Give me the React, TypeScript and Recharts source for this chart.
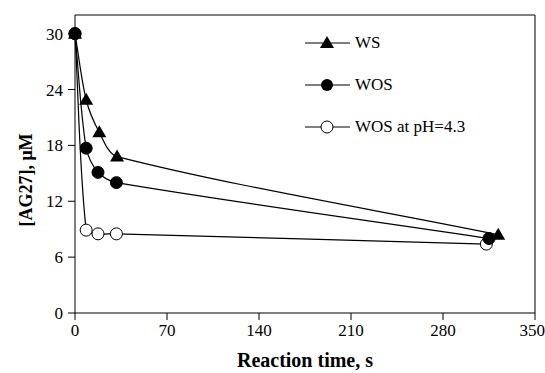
import React from 'react';
import {
  LineChart,
  Line,
  XAxis,
  YAxis,
  Legend,
} from 'recharts';

// reaction time (s) and [AG27] (uM) per series
const wsTime = [0, 8.5, 18.5, 32, 322];
const wsConc = [30, 22.9, 19.4, 16.8, 8.4];
const wosTime = [0, 8.5, 17.5, 31.5, 315];
const wosConc = [30, 17.7, 15.1, 14.0, 8.0];
const phTime = [0, 8.5, 17.5, 31.5, 313];
const phConc = [30, 8.9, 8.5, 8.5, 7.4];

const xTicks = [0, 70, 140, 210, 280, 350];
const yTicks = [0, 6, 12, 18, 24, 30];

const toRows = (t: number[], c: number[]) => t.map((v, i) => ({ time: v, conc: c[i] }));

const wsData = toRows(wsTime, wsConc);
const wosData = toRows(wosTime, wosConc);
const phData = toRows(phTime, phConc);

const font = 'Liberation Serif, Times New Roman, serif';

// spreadsheet-style smoothed line: tangent from neighbours, handle length tied to segment length
const smoothCurve = (context: any) => {
  let pts: number[][] = [];
  const unit = (a: number[], b: number[]) => {
    const dx = b[0] - a[0];
    const dy = b[1] - a[1];
    const len = Math.hypot(dx, dy) || 1;
    return [dx / len, dy / len];
  };
  return {
    areaStart() {},
    areaEnd() {},
    lineStart() {
      pts = [];
    },
    point(x: number, y: number) {
      pts.push([+x, +y]);
    },
    lineEnd() {
      const n = pts.length;
      if (!n) return;
      const tan = pts.map((_, i) => unit(pts[Math.max(i - 1, 0)], pts[Math.min(i + 1, n - 1)]));
      context.moveTo(pts[0][0], pts[0][1]);
      for (let i = 0; i < n - 1; i++) {
        const p1 = pts[i];
        const p2 = pts[i + 1];
        const h = Math.hypot(p2[0] - p1[0], p2[1] - p1[1]) * 0.3;
        context.bezierCurveTo(
          p1[0] + tan[i][0] * h,
          p1[1] + tan[i][1] * h,
          p2[0] - tan[i + 1][0] * h,
          p2[1] - tan[i + 1][1] * h,
          p2[0],
          p2[1],
        );
      }
    },
  };
};

const Triangle = (props: any) => {
  const { cx, cy } = props;
  if (cx == null || cy == null) return null;
  return (
    <polygon
      key={`t-${cx}-${cy}`}
      points={`${cx},${cy - 7} ${cx - 7},${cy + 5} ${cx + 7},${cy + 5}`}
      fill='#000'
    />
  );
};

const LegendBox = () => {
  const rows = [
    { name: 'WS', kind: 'tri' },
    { name: 'WOS', kind: 'dot' },
    { name: 'WOS at pH=4.3', kind: 'open' },
  ];
  return (
    <svg width={230} height={110} style={{ overflow: 'visible', display: 'block' }}>
      {rows.map((r, i) => {
        const y = 6 + i * 42;
        return (
          <g key={r.name}>
            <line x1={0} x2={45} y1={y} y2={y} stroke='#000' strokeWidth={1.2} />
            {r.kind === 'tri' && (
              <polygon points={`22,${y - 7} 15,${y + 5} 29,${y + 5}`} fill='#000' />
            )}
            {r.kind === 'dot' && <circle cx={22} cy={y} r={6} fill='#000' />}
            {r.kind === 'open' && (
              <circle cx={22} cy={y} r={6} fill='#fff' stroke='#000' strokeWidth={1} />
            )}
            <text x={50} y={y + 5} style={{ fontSize: 17, fontFamily: font, fill: '#000' }}>
              {r.name}
            </text>
          </g>
        );
      })}
    </svg>
  );
};

const App: React.FC = () => {
  return (
    <div style={{ position: 'absolute', left: 0, top: 0, width: 545, height: 373, background: '#fff' }}>
      <LineChart width={545} height={373} margin={{ top: 14, right: 9, left: 0, bottom: 0 }}>
        <XAxis
          type='number'
          dataKey='time'
          domain={[0, 350]}
          ticks={xTicks}
          height={60}
          stroke='#000'
          tickSize={7}
          tickMargin={4}
          tick={{ fill: '#000', fontSize: 17, fontFamily: font }}
          label={{
            value: 'Reaction time, s',
            position: 'insideBottom',
            offset: 6,
            style: { fill: '#000', fontSize: 20, fontWeight: 'bold', fontFamily: font },
          }}
        />
        <XAxis
          xAxisId='top'
          orientation='top'
          type='number'
          domain={[0, 350]}
          height={1}
          stroke='#000'
          tick={false}
          tickLine={false}
        />
        <YAxis
          type='number'
          domain={[0, 32]}
          ticks={yTicks}
          width={75}
          stroke='#000'
          tickSize={7}
          tickMargin={5}
          tick={{ fill: '#000', fontSize: 17, fontFamily: font }}
          label={{
            value: '[AG27], \u03bcM',
            angle: -90,
            position: 'insideLeft',
            offset: 26,
            dy: 16,
            style: { fill: '#000', fontSize: 18, fontWeight: 'bold', fontFamily: font, textAnchor: 'middle' },
          }}
        />
        <YAxis
          yAxisId='right'
          orientation='right'
          type='number'
          domain={[0, 32]}
          width={1}
          stroke='#000'
          tick={false}
          tickLine={false}
        />
        <Legend
          layout='horizontal'
          verticalAlign='middle'
          align='center'
          wrapperStyle={{ top: 37, left: 305, width: 230 }}
          content={() => <LegendBox />}
        />
        <Line
          data={phData}
          dataKey='conc'
          type={smoothCurve as any}
          stroke='#000'
          strokeWidth={1.2}
          dot={{ r: 6, fill: '#fff', stroke: '#000', strokeWidth: 1 }}
          isAnimationActive={false}
        />
        <Line
          data={wosData}
          dataKey='conc'
          type={smoothCurve as any}
          stroke='#000'
          strokeWidth={1.2}
          dot={{ r: 6, fill: '#000', stroke: '#000', strokeWidth: 1 }}
          isAnimationActive={false}
        />
        <Line
          data={wsData}
          dataKey='conc'
          type={smoothCurve as any}
          stroke='#000'
          strokeWidth={1.2}
          dot={<Triangle />}
          isAnimationActive={false}
        />
      </LineChart>
    </div>
  );
};

export default App;
